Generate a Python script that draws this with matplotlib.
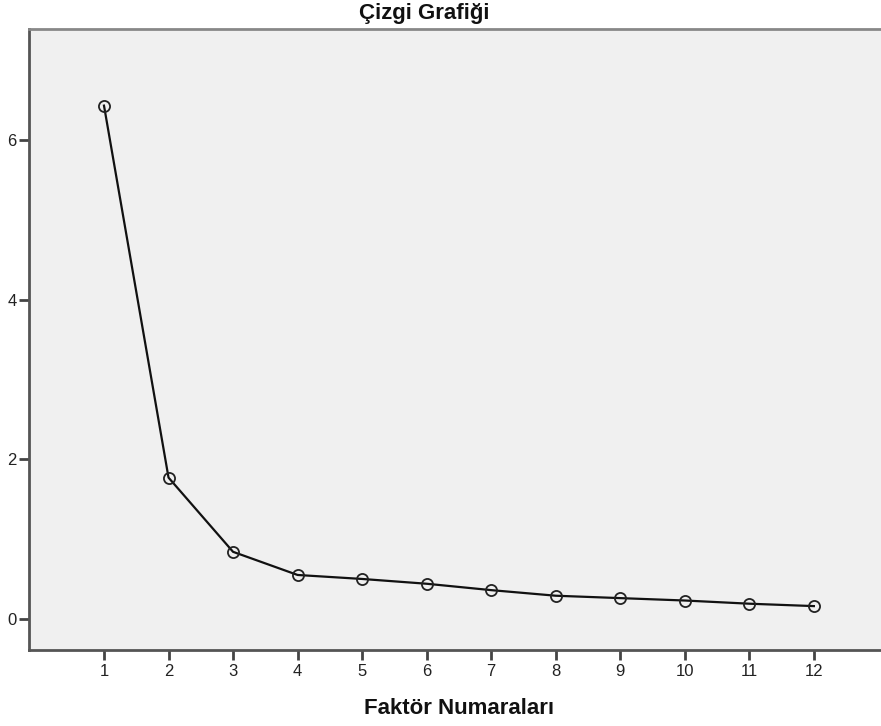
import matplotlib
matplotlib.use("Agg")
import matplotlib.pyplot as plt

factors = [1, 2, 3, 4, 5, 6, 7, 8, 9, 10, 11, 12]
eigenvalues = [6.43, 1.77, 0.84, 0.55, 0.50, 0.44, 0.36, 0.29, 0.26, 0.23, 0.19, 0.16]
y_ticks = [0, 2, 4, 6]

plt.rcParams['font.family'] = ['Liberation Sans', 'DejaVu Sans']

fig = plt.figure(figsize=(8.81, 7.26), dpi=100)
ax = fig.add_axes([29/881, 76/726, 1 - 29/881, (650-29)/726])
ax.set_facecolor('#f0f0f0')

ax.plot(factors, eigenvalues, color='#111111', lw=1.6, marker='o', markersize=8,
        markerfacecolor='none', markeredgecolor='#222222', markeredgewidth=1.3)

ax.set_xlim(-0.162, 13.04)
ax.set_ylim(-0.39, 7.39)
ax.set_xticks(factors)
ax.set_xticklabels([str(f) for f in factors])
ax.set_yticks(y_ticks)
ax.set_yticklabels([str(t) for t in y_ticks])

for s in ['left', 'bottom']:
    ax.spines[s].set_color('#555555')
    ax.spines[s].set_linewidth(2)
ax.spines['top'].set_color('#888888')
ax.spines['top'].set_linewidth(2)
ax.spines['right'].set_visible(False)

ax.tick_params(axis='both', direction='out', length=7, width=2, color='#444444',
               labelsize=12, labelcolor='#222222', pad=3)
ax.tick_params(axis='y', pad=2)

fig.text(424/881, 1 - 13/726, 'Çizgi Grafiği', ha='center', va='center',
         fontsize=16, fontweight='bold', color='#111111')
fig.text(459/881, 1 - 708/726, 'Faktör Numaraları', ha='center', va='center',
         fontsize=16, fontweight='bold', color='#111111')

fig.savefig('out.png', dpi=100)
